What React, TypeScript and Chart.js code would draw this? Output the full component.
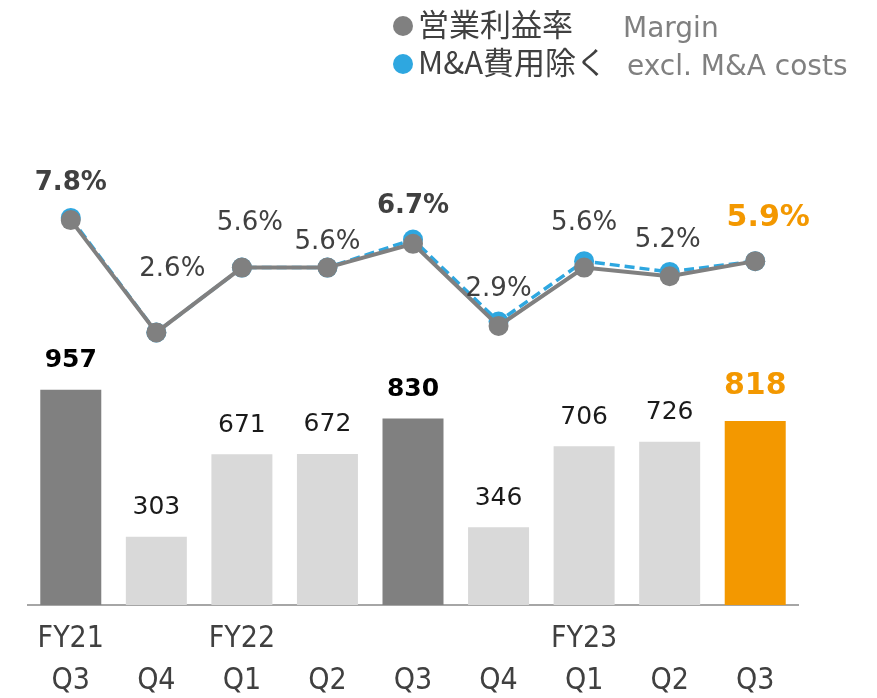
import React, { useEffect, useRef } from "react";
import { Chart, registerables } from "chart.js";

Chart.register(...registerables);

const tickLabels: string[][] = [
  ["FY21", "Q3"],
  ["", "Q4"],
  ["FY22", "Q1"],
  ["", "Q2"],
  ["", "Q3"],
  ["", "Q4"],
  ["FY23", "Q1"],
  ["", "Q2"],
  ["", "Q3"],
];
const operatingProfit: number[] = [957, 303, 671, 672, 830, 346, 706, 726, 818];
const margin: number[] = [7.8, 2.6, 5.6, 5.6, 6.7, 2.9, 5.6, 5.2, 5.9];
const marginExclMA: number[] = [7.9, 2.6, 5.6, 5.6, 6.9, 3.1, 5.9, 5.4, 5.9];
const barKinds: string[] = ["key", "normal", "normal", "normal", "key", "normal", "normal", "normal", "latest"];

const DARK = "#808080";
const LIGHT = "#d9d9d9";
const ORANGE = "#f39800";
const BLUE = "#2ea7e0";
const TEXT = "#404040";

// label placement (offset from the grey point / bar top), styling only
const pctLabelDx = [0, 16, 8, 0, 0, 0, 0, -2, 13];
const pctLabelDy = [-30, -56, -38, -19, -31, -30, -38, -29, -35];

const CANVAS_H = 715;

const labelPlugin = {
  id: "customLabels",
  afterDatasetsDraw(chart: any) {
    const ctx = chart.ctx;
    ctx.save();
    const barMeta = chart.getDatasetMeta(0);
    barMeta.data.forEach((el: any, i: number) => {
      const kind = barKinds[i];
      const v = operatingProfit[i];
      ctx.textAlign = "center";
      ctx.textBaseline = "alphabetic";
      if (kind === "latest") {
        ctx.font = "bold 30px 'DejaVu Sans'";
        ctx.fillStyle = ORANGE;
        ctx.fillText(String(v), el.x, el.y - 27);
      } else if (kind === "key") {
        ctx.font = "bold 25px 'DejaVu Sans'";
        ctx.fillStyle = "#000000";
        ctx.fillText(String(v), el.x, el.y - 22.5);
      } else {
        ctx.font = "25px 'DejaVu Sans'";
        ctx.fillStyle = "#1a1a1a";
        ctx.fillText(String(v), el.x, el.y - 22.5);
      }
    });
    const lineMeta = chart.getDatasetMeta(2);
    lineMeta.data.forEach((el: any, i: number) => {
      const kind = barKinds[i];
      const txt = margin[i].toFixed(1) + "%";
      ctx.textAlign = "center";
      ctx.textBaseline = "alphabetic";
      if (kind === "latest") {
        ctx.font = "bold 30px 'DejaVu Sans'";
        ctx.fillStyle = ORANGE;
      } else if (kind === "key") {
        ctx.font = "bold 26px 'DejaVu Sans'";
        ctx.fillStyle = TEXT;
      } else {
        ctx.font = "26px 'DejaVu Sans'";
        ctx.fillStyle = TEXT;
      }
      ctx.fillText(txt, el.x + pctLabelDx[i], el.y + pctLabelDy[i]);
    });
    ctx.restore();
  },
  afterDraw(chart: any) {
    const ctx = chart.ctx;
    ctx.save();
    ctx.textBaseline = "alphabetic";
    ctx.textAlign = "left";
    ctx.fillStyle = DARK;
    ctx.beginPath();
    ctx.arc(403, 26, 10, 0, Math.PI * 2);
    ctx.fill();
    ctx.font = "31px 'Noto Sans CJK JP'";
    ctx.fillStyle = TEXT;
    ctx.fillText("営業利益率", 418, 36);
    ctx.font = "28px 'DejaVu Sans'";
    ctx.fillStyle = "#808080";
    ctx.fillText("Margin", 623, 37);
    ctx.fillStyle = BLUE;
    ctx.beginPath();
    ctx.arc(403, 64, 10, 0, Math.PI * 2);
    ctx.fill();
    ctx.font = "31px 'Noto Sans CJK JP'";
    ctx.fillStyle = TEXT;
    ctx.fillText("M&A費用除く", 418, 74);
    ctx.font = "28px 'DejaVu Sans'";
    ctx.fillStyle = "#808080";
    ctx.fillText("excl. M&A costs", 627, 75);
    ctx.restore();
  },
};

export default function App() {
  const ref = useRef<HTMLCanvasElement | null>(null);
  useEffect(() => {
    if (!ref.current) return;
    const barColors = barKinds.map((k) => (k === "key" ? DARK : k === "latest" ? ORANGE : LIGHT));
    const chart = new Chart(ref.current, {
      type: "bar",
      data: {
        labels: tickLabels,
        datasets: [
          {
            type: "bar",
            label: "営業利益",
            data: operatingProfit,
            backgroundColor: barColors,
            borderWidth: 0,
            categoryPercentage: 1,
            barPercentage: 0.713,
            yAxisID: "y",
            order: 2,
          },
          {
            type: "line",
            label: "M&A費用除く",
            data: marginExclMA,
            borderColor: BLUE,
            backgroundColor: BLUE,
            borderWidth: 3.5,
            borderDash: [10, 5],
            pointRadius: 10,
            pointBorderWidth: 0,
            pointBackgroundColor: BLUE,
            tension: 0,
            yAxisID: "y2",
            order: 1,
          },
          {
            type: "line",
            label: "営業利益率",
            data: margin,
            borderColor: DARK,
            backgroundColor: DARK,
            borderWidth: 4,
            pointRadius: 10,
            pointBorderWidth: 0,
            pointBackgroundColor: DARK,
            tension: 0,
            yAxisID: "y2",
            order: 0,
          },
        ],
      } as any,
      options: {
        animation: false,
        responsive: false,
        maintainAspectRatio: false,
        events: [],
        layout: { padding: { left: 28, right: 79, top: 100, bottom: 0 } },
        plugins: {
          legend: { display: false },
          tooltip: { enabled: false },
        },
        scales: {
          x: {
            offset: true,
            grid: { display: false, drawTicks: false },
            border: { display: true, color: "#a6a6a6", width: 2 },
            ticks: {
              padding: 13,
              color: TEXT,
              maxRotation: 0,
              autoSkip: false,
              font: { family: "'DejaVu Sans Condensed', 'DejaVu Sans'", size: 30, lineHeight: 1.4 },
            },
          },
          y: { display: false, min: 0, max: 2246 },
          y2: { display: false, min: -10.02, max: 13.36 },
        },
      } as any,
      plugins: [labelPlugin],
    });
    return () => chart.destroy();
  }, []);
  return (
    <div style={{ position: "fixed", left: 0, top: 0, width: 877, height: CANVAS_H }}>
      <canvas ref={ref} width={877} height={CANVAS_H} style={{ width: 877, height: CANVAS_H, display: "block" }} />
    </div>
  );
}
